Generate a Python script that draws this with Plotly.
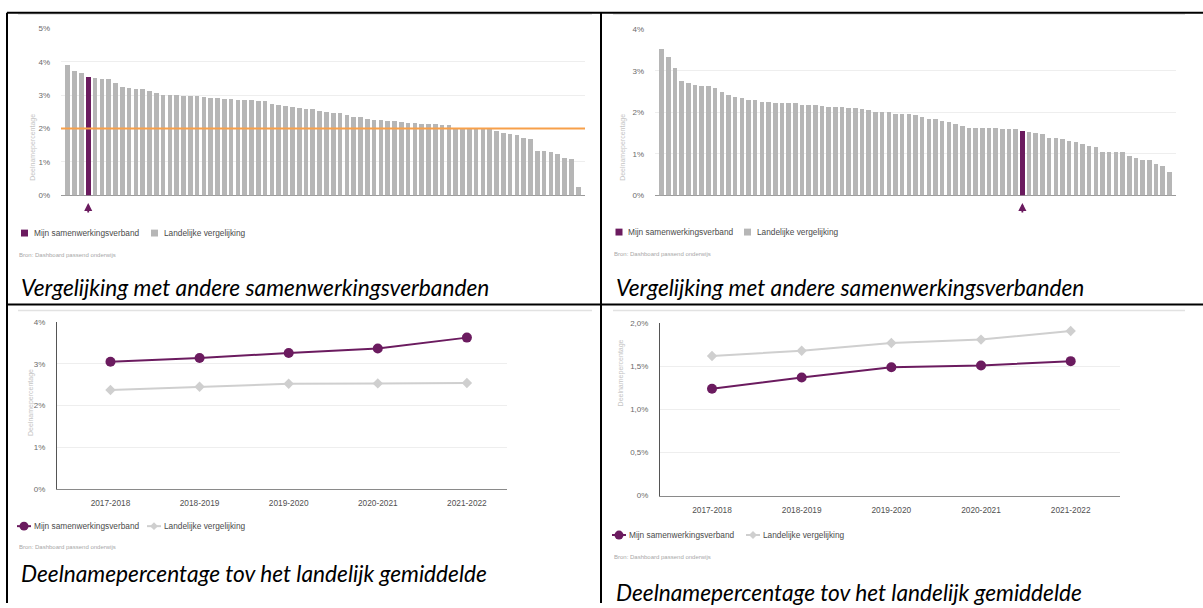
import plotly.graph_objects as go

W, H = 1203, 608

# ---------------- data ----------------
# Chart 1 (top left): deelnamepercentage per samenwerkingsverband, sorted
bars1 = [3.91, 3.75, 3.69, 3.57, 3.52, 3.50, 3.50, 3.37, 3.27, 3.24,
         3.20, 3.20, 3.15, 3.08, 3.03, 3.01, 3.01, 3.00, 3.00, 2.99,
         2.95, 2.94, 2.93, 2.90, 2.89, 2.88, 2.88, 2.88, 2.85, 2.84,
         2.76, 2.71, 2.68, 2.67, 2.63, 2.60, 2.59, 2.55, 2.51, 2.49,
         2.47, 2.41, 2.37, 2.36, 2.31, 2.27, 2.26, 2.25, 2.23, 2.22,
         2.18, 2.17, 2.16, 2.14, 2.14, 2.13, 2.11, 2.03, 2.02, 2.02,
         2.01, 2.00, 2.00, 1.93, 1.89, 1.86, 1.83, 1.74, 1.70, 1.33,
         1.33, 1.31, 1.25, 1.13, 1.10, 0.27]
mijn1 = 3            # index of "Mijn samenwerkingsverband"
gemiddelde1 = 2.0    # orange reference line

# Chart 2 (top right)
bars2 = [3.55, 3.34, 3.08, 2.76, 2.72, 2.66, 2.65, 2.65, 2.60, 2.51,
         2.44, 2.38, 2.36, 2.32, 2.32, 2.26, 2.25, 2.24, 2.24, 2.24,
         2.24, 2.18, 2.18, 2.18, 2.17, 2.14, 2.14, 2.13, 2.12, 2.12,
         2.09, 2.07, 2.03, 2.02, 2.01, 1.98, 1.97, 1.97, 1.94, 1.89,
         1.85, 1.85, 1.81, 1.77, 1.73, 1.67, 1.64, 1.64, 1.64, 1.64,
         1.63, 1.61, 1.61, 1.61, 1.55, 1.53, 1.52, 1.49, 1.40, 1.40,
         1.37, 1.31, 1.29, 1.25, 1.20, 1.18, 1.05, 1.05, 1.05, 1.04,
         0.95, 0.90, 0.87, 0.85, 0.75, 0.72, 0.56]
mijn2 = 54

# Charts 3 and 4 (bottom): trend
jaren = ["2017-2018", "2018-2019", "2019-2020", "2020-2021", "2021-2022"]
c3_mijn = [3.05, 3.14, 3.26, 3.37, 3.63]
c3_land = [2.37, 2.45, 2.52, 2.53, 2.54]
c4_mijn = [1.24, 1.37, 1.49, 1.51, 1.56]
c4_land = [1.62, 1.68, 1.77, 1.81, 1.91]

ticks1 = [0, 1, 2, 3, 4, 5]
ticks2 = [0, 1, 2, 3, 4]
ticks3 = [0, 1, 2, 3, 4]
ticks4 = [0, 0.5, 1.0, 1.5, 2.0]
ticktext4 = ["0%", "0,5%", "1,0%", "1,5%", "2,0%"]

lbl_mijn = "Mijn samenwerkingsverband"
lbl_land = "Landelijke vergelijking"
bron = "Bron: Dashboard passend onderwijs"
cap_top = "Vergelijking met andere samenwerkingsverbanden"
cap_bottom = "Deelnamepercentage tov het landelijk gemiddelde"
ytitle = "Deelnamepercentage"

# ---------------- styles ----------------
PURPLE = "#6b1b5f"
GRAY_BAR = "#b6b6b6"
GRAY_LINE = "#cfcfcf"
ORANGE = "#f7a04a"
GRID = "#eeeeee"
SANS = "Liberation Sans, Arial, sans-serif"
TICKF = dict(family=SANS, size=8, color="#6a6a6a")
CAP_FAMILY = "Lato, Open Sans, sans-serif"
CAP_SIZE = 22.7


def px(x):
    return x / W


def py(y):
    return 1 - y / H


fig = go.Figure()

# ---------------- bar charts ----------------
x1 = list(range(len(bars1)))
fig.add_trace(go.Bar(x=x1, y=bars1, width=0.68,
                     marker=dict(color=[PURPLE if i == mijn1 else GRAY_BAR for i in x1], line_width=0),
                     xaxis="x", yaxis="y", hoverinfo="skip", showlegend=False))
x2 = list(range(len(bars2)))
fig.add_trace(go.Bar(x=x2, y=bars2, width=0.68,
                     marker=dict(color=[PURPLE if i == mijn2 else GRAY_BAR for i in x2], line_width=0),
                     xaxis="x2", yaxis="y2", hoverinfo="skip", showlegend=False))

# ---------------- line charts ----------------
for xa, ya, land, mijn in (("x3", "y3", c3_land, c3_mijn), ("x4", "y4", c4_land, c4_mijn)):
    fig.add_trace(go.Scatter(x=jaren, y=land, mode="lines+markers",
                             line=dict(color=GRAY_LINE, width=2),
                             marker=dict(symbol="diamond", size=8, color=GRAY_LINE),
                             xaxis=xa, yaxis=ya, hoverinfo="skip", showlegend=False))
    fig.add_trace(go.Scatter(x=jaren, y=mijn, mode="lines+markers",
                             line=dict(color=PURPLE, width=2),
                             marker=dict(symbol="circle", size=10, color=PURPLE),
                             xaxis=xa, yaxis=ya, hoverinfo="skip", showlegend=False))

bar_x = dict(showticklabels=False, showgrid=False, zeroline=False, showline=False, fixedrange=True)
bar_y = dict(gridcolor=GRID, gridwidth=1, zeroline=True, zerolinecolor="#9a9a9a", zerolinewidth=1,
             showline=False, tickfont=TICKF, ticklabelstandoff=10, fixedrange=True)
line_x = dict(showgrid=False, zeroline=False, showline=True, linecolor="#8a8a8a", linewidth=1,
              tickfont=dict(family=SANS, size=8.3, color="#505050"), ticks="", ticklabelstandoff=6,
              fixedrange=True)
line_y = dict(gridcolor=GRID, gridwidth=1, zeroline=False, showline=True, linecolor="#555555",
              linewidth=1, tickfont=TICKF, ticklabelstandoff=9, fixedrange=True)

fig.update_layout(
    width=W, height=H,
    margin=dict(l=0, r=0, t=0, b=0),
    paper_bgcolor="white", plot_bgcolor="white",
    bargap=0,
    xaxis=dict(domain=[px(61), px(585)], range=[-1, len(bars1)], anchor="y", **bar_x),
    yaxis=dict(domain=[py(194), py(25)], range=[0, 5], anchor="x", tickvals=ticks1,
               ticktext=[f"{t}%" for t in ticks1], **bar_y),
    xaxis2=dict(domain=[px(655), px(1176)], range=[-1, len(bars2)], anchor="y2", **bar_x),
    yaxis2=dict(domain=[py(194), py(26)], range=[0, 4], anchor="x2", tickvals=ticks2,
                ticktext=[f"{t}%" for t in ticks2], **bar_y),
    xaxis3=dict(domain=[px(57), px(507)], range=[-0.6, 4.45], anchor="y3", type="category", **line_x),
    yaxis3=dict(domain=[py(492), py(323)], range=[0, 4], anchor="x3", tickvals=ticks3,
                ticktext=[f"{t}%" for t in ticks3], **line_y),
    xaxis4=dict(domain=[px(660), px(1120)], range=[-0.58, 4.55], anchor="y4", type="category", **line_x),
    yaxis4=dict(domain=[py(499), py(324)], range=[0, 2.0], anchor="x4", tickvals=ticks4,
                ticktext=ticktext4, **line_y),
)

shapes = []
annotations = []

# orange average line
shapes.append(dict(type="line", xref="x domain", yref="y", x0=0, x1=1, y0=gemiddelde1, y1=gemiddelde1,
                   line=dict(color=ORANGE, width=2)))

# arrows under the highlighted bars
for xr, idx in (("x", mijn1), ("x2", mijn2)):
    annotations.append(dict(x=idx, xref=xr, y=py(202), yref="paper", ax=0, ay=11, showarrow=True,
                            arrowhead=2, arrowsize=0.9, arrowwidth=1.8, arrowcolor=PURPLE, text=""))

# y-axis titles
for x, y in ((27, 110), (623, 110), (25, 405), (621, 411)):
    annotations.append(dict(x=px(x), y=py(y), xref="paper", yref="paper", text=ytitle, textangle=-90,
                            showarrow=False, font=dict(family=SANS, size=7, color="#c4c4c4")))


def text(x, y, s, size, color, family=SANS, italic=False):
    annotations.append(dict(x=px(x), y=py(y), xref="paper", yref="paper", text=s, showarrow=False,
                            xanchor="left", yanchor="middle",
                            font=dict(family=family, size=size, color=color,
                                      style="italic" if italic else "normal")))


def square(x, y, color):
    shapes.append(dict(type="rect", xref="paper", yref="paper", x0=px(x - 3.5), x1=px(x + 3.5),
                       y0=py(y + 3.5), y1=py(y - 3.5), fillcolor=color, line_width=0))


def circle_sym(x, y, color):
    shapes.append(dict(type="line", xref="paper", yref="paper", x0=px(x - 7), x1=px(x + 7),
                       y0=py(y), y1=py(y), line=dict(color=color, width=2)))
    shapes.append(dict(type="circle", xref="paper", yref="paper", x0=px(x - 4.5), x1=px(x + 4.5),
                       y0=py(y + 4.5), y1=py(y - 4.5), fillcolor=color, line_width=0))


def diamond_sym(x, y, color):
    shapes.append(dict(type="line", xref="paper", yref="paper", x0=px(x - 7), x1=px(x + 7),
                       y0=py(y), y1=py(y), line=dict(color=color, width=2)))
    p = (f"M {px(x)},{py(y - 4)} L {px(x + 4)},{py(y)} L {px(x)},{py(y + 4)} "
         f"L {px(x - 4)},{py(y)} Z")
    shapes.append(dict(type="path", xref="paper", yref="paper", path=p, fillcolor=color, line_width=0))


LEG = "#4a4a4a"
SRC = "#a8a8a8"
# legends row 1
square(24.5, 232.5, PURPLE); text(32, 232.5, lbl_mijn, 8.3, LEG)
square(154.5, 232.5, GRAY_BAR); text(162, 232.5, lbl_land, 8.3, LEG)
text(17, 255, bron, 6, SRC)
square(619, 231.5, PURPLE); text(626, 231.5, lbl_mijn, 8.3, LEG)
square(747.5, 231.5, GRAY_BAR); text(755, 231.5, lbl_land, 8.3, LEG)
text(612, 254, bron, 6, SRC)
# legends row 2
circle_sym(24, 530, PURPLE); text(32, 530, lbl_mijn, 8.3, LEG)
diamond_sym(154, 530, GRAY_LINE); text(162, 530, lbl_land, 8.3, LEG)
text(17, 551, bron, 6, SRC)
circle_sym(619, 539, PURPLE); text(627, 539, lbl_mijn, 8.3, LEG)
diamond_sym(753, 539, GRAY_LINE); text(761, 539, lbl_land, 8.3, LEG)
text(612, 561, bron, 6, SRC)

# captions
text(19, 288, cap_top, CAP_SIZE, "#000", family=CAP_FAMILY, italic=True)
text(614, 288, cap_top, CAP_SIZE, "#000", family=CAP_FAMILY, italic=True)
text(19, 578, cap_bottom, CAP_SIZE, "#000", family=CAP_FAMILY, italic=True)
text(614, 597, cap_bottom, CAP_SIZE, "#000", family=CAP_FAMILY, italic=True)

# faint top edges of the embedded screenshots
for x0, x1, y in ((18, 592, 10.5), (613, 1185, 10.5), (18, 592, 311), (613, 1185, 311)):
    shapes.append(dict(type="line", xref="paper", yref="paper", x0=px(x0), x1=px(x1), y0=py(y), y1=py(y),
                       line=dict(color="#e2e2e2", width=1.5)))

# table borders
BL = dict(color="#000000", width=2)
for x0, y0, x1, y1 in ((7, 9, 1203, 9), (7, 305, 1203, 305), (7, 9, 7, 608), (601, 9, 601, 608)):
    shapes.append(dict(type="line", xref="paper", yref="paper", x0=px(x0), x1=px(x1), y0=py(y0), y1=py(y1),
                       line=BL))

fig.update_layout(shapes=shapes, annotations=annotations)
fig.write_html("out.html", config={"displayModeBar": False},
               post_script="document.body.style.margin='0';document.body.style.overflow='hidden';")
